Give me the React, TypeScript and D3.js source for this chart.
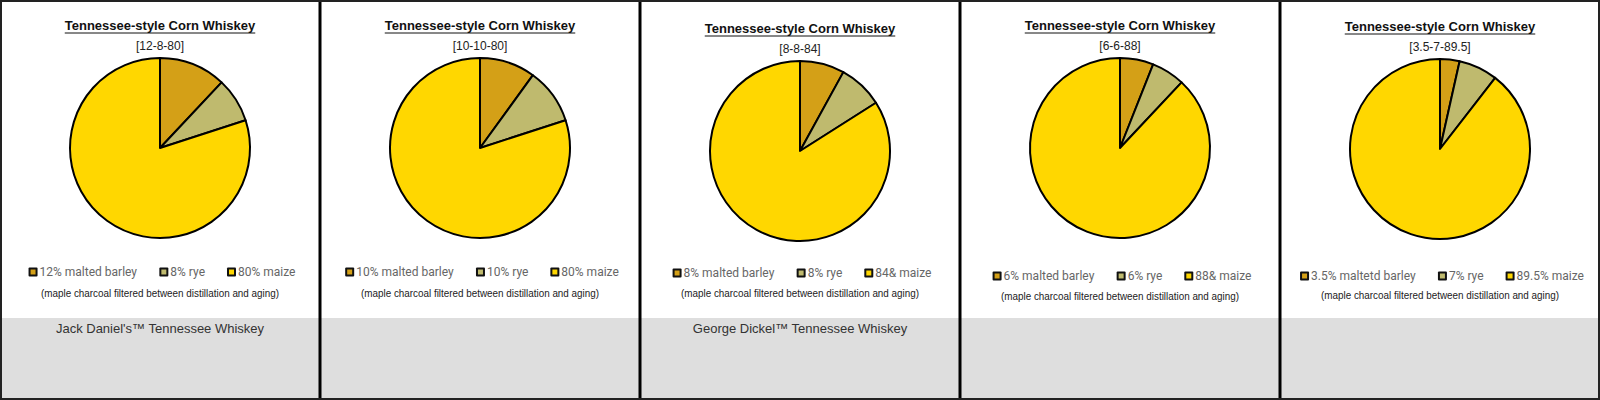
import { useEffect, useRef } from "react";
import * as d3 from "d3";

const W = 1600;
const H = 400;

// chart values
const title = "Tennessee-style Corn Whiskey";
const ratios = ["[12-8-80]", "[10-10-80]", "[8-8-84]", "[6-6-88]", "[3.5-7-89.5]"];
const grains = ["barley", "rye", "maize"];
const barley = [12, 10, 8, 6, 3.5];
const rye = [8, 10, 8, 6, 7];
const maize = [80, 80, 84, 88, 89.5];
const barleyLabels = ["12% malted barley", "10% malted barley", "8% malted barley", "6% malted barley", "3.5% maltetd barley"];
const ryeLabels = ["8% rye", "10% rye", "8% rye", "6% rye", "7% rye"];
const maizeLabels = ["80% maize", "80% maize", "84& maize", "88& maize", "89.5% maize"];
const brands = ["Jack Daniel's™ Tennessee Whiskey", "", "George Dickel™ Tennessee Whiskey", "", ""];
const note = "(maple charcoal filtered between distillation and aging)";

// small per-panel vertical nudges seen in the original
const topShift = [0, 0, 3, 0, 1];
const legendShift = [0, 0, 1, 4, 4];
const noteShift = [0, 0, 0, 3, 2];

const color = d3.scaleOrdinal<string, string>()
  .domain(grains)
  .range(["#D4A017", "#BFBA6E", "#FFD700"]);

const App = () => {
  const ref = useRef<SVGSVGElement>(null);

  useEffect(() => {
    document.body.style.margin = "0";
    const svg = d3.select(ref.current);
    svg.selectAll("*").remove();

    const x = d3.scaleBand<number>().domain(d3.range(ratios.length)).range([0, W]);
    const pw = x.bandwidth();
    const radius = 90;
    const pie = d3.pie<{ k: string; v: number }>().sort(null).value(d => d.v);
    const arc = d3.arc<d3.PieArcDatum<{ k: string; v: number }>>().innerRadius(0).outerRadius(radius);

    svg.append("rect").attr("width", W).attr("height", H).attr("fill", "#fff");

    ratios.forEach((r, i) => {
      const g = svg.append("g").attr("transform", `translate(${x(i)},0)`);
      const cx = pw / 2;
      const ts = topShift[i];

      // grey band
      g.append("rect")
        .attr("x", 0).attr("y", 318)
        .attr("width", pw).attr("height", H - 318)
        .attr("fill", "#dedede");

      // title
      const t = g.append("text")
        .attr("x", cx).attr("y", 30 + ts)
        .attr("text-anchor", "middle")
        .attr("font-family", "'Liberation Sans', Arial, sans-serif")
        .attr("font-weight", "bold")
        .attr("font-size", 13)
        .attr("fill", "#111")
        .text(title);
      const tw = (t.node() as SVGTextElement).getComputedTextLength();
      g.append("line")
        .attr("x1", cx - tw / 2).attr("x2", cx + tw / 2)
        .attr("y1", 33 + ts).attr("y2", 33 + ts)
        .attr("stroke", "#111").attr("stroke-width", 1);

      g.append("text")
        .attr("x", cx).attr("y", 50 + ts)
        .attr("text-anchor", "middle")
        .attr("font-family", "'Liberation Sans', Arial, sans-serif")
        .attr("font-size", 12)
        .attr("fill", "#222")
        .text(r);

      // pie
      const data = [
        { k: "barley", v: barley[i] },
        { k: "rye", v: rye[i] },
        { k: "maize", v: maize[i] },
      ];
      g.append("g")
        .attr("transform", `translate(${cx},${148 + ts})`)
        .selectAll("path")
        .data(pie(data))
        .join("path")
        .attr("d", arc)
        .attr("fill", d => color(d.data.k))
        .attr("stroke", "#000")
        .attr("stroke-width", 2)
        .attr("stroke-linejoin", "round");

      // legend
      const labels = [barleyLabels[i], ryeLabels[i], maizeLabels[i]];
      const lg = g.append("g").attr("transform", `translate(0,${272 + legendShift[i]})`);
      const items = lg.selectAll("g")
        .data(grains)
        .join("g");
      items.append("rect")
        .attr("x", 0).attr("y", -4.5)
        .attr("width", 9).attr("height", 9)
        .attr("rx", 1)
        .attr("fill", "#111");
      items.append("rect")
        .attr("x", 2).attr("y", -2.5)
        .attr("width", 5).attr("height", 5)
        .attr("fill", d => color(d));
      items.append("text")
        .attr("x", 11).attr("y", 4)
        .attr("font-family", "Roboto, 'Liberation Sans', sans-serif")
        .attr("font-size", 12)
        .attr("fill", "#666")
        .text((_, j) => labels[j]);
      const widths: number[] = [];
      items.each(function () {
        widths.push((this as SVGGElement).getBBox().width);
      });
      const gap = 22;
      const total = d3.sum(widths) + gap * (widths.length - 1);
      let pos = cx + 2 - total / 2;
      items.attr("transform", (_, j) => {
        const p = pos;
        pos += widths[j] + gap;
        return `translate(${p},0)`;
      });

      // note
      const n = g.append("text")
        .attr("x", cx).attr("y", 297 + noteShift[i])
        .attr("text-anchor", "middle")
        .attr("font-family", "'Liberation Sans Narrow', 'Arial Narrow', 'Liberation Sans', sans-serif")
        .attr("font-stretch", "condensed")
        .attr("font-size", 11)
        .attr("fill", "#222")
        .text(note);
      const nw = (n.node() as SVGTextElement).getComputedTextLength();
      if (nw > 245) n.attr("textLength", 238).attr("lengthAdjust", "spacingAndGlyphs");

      // brand
      if (brands[i]) {
        g.append("text")
          .attr("x", cx).attr("y", 333)
          .attr("text-anchor", "middle")
          .attr("font-family", "'Liberation Sans', Arial, sans-serif")
          .attr("font-size", 13)
          .attr("fill", "#333")
          .text(brands[i]);
      }
    });

    // dividers and frame
    d3.range(1, ratios.length).forEach(i => {
      svg.append("line")
        .attr("x1", x(i)!).attr("x2", x(i)!)
        .attr("y1", 0).attr("y2", H)
        .attr("stroke", "#000").attr("stroke-width", 3);
    });
    svg.append("rect")
      .attr("x", 1).attr("y", 1)
      .attr("width", W - 2).attr("height", H - 2)
      .attr("fill", "none")
      .attr("stroke", "#222").attr("stroke-width", 2);
  }, []);

  return <svg ref={ref} width={W} height={H} style={{ display: "block" }} />;
};

export default App;
